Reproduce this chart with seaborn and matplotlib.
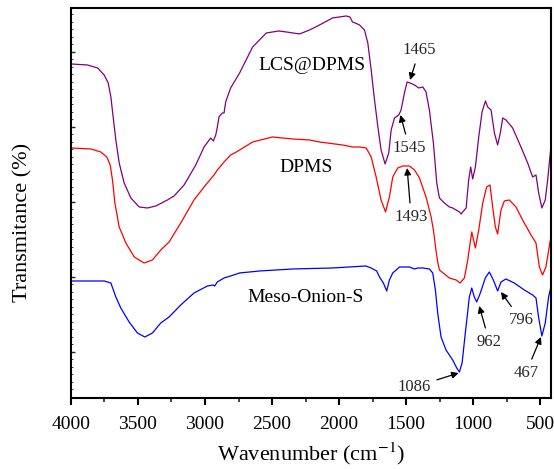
import matplotlib
matplotlib.use("Agg")
import matplotlib.pyplot as plt
import matplotlib.ticker as mticker
import seaborn as sns
import pandas as pd

# Spectra (transmittance in arbitrary units, curves stacked)
lcs_wn = [4000, 3876, 3801, 3752, 3722, 3702, 3685, 3665, 3640, 3603, 3553, 3491, 3429, 3367,
          3280, 3231, 3156, 3069, 3007, 2958, 2938, 2920, 2908, 2896, 2871, 2858, 2846, 2809,
          2742, 2645, 2543, 2450, 2394, 2295, 2220, 2146, 2049, 1947, 1920, 1900, 1863, 1848,
          1811, 1786, 1761, 1736, 1711, 1687, 1657, 1630, 1612, 1587, 1555, 1538, 1513, 1493,
          1471, 1438, 1406, 1376, 1352, 1327, 1297, 1272, 1252, 1215, 1178, 1153, 1103, 1091,
          1053, 1034, 1019, 1004, 984, 959, 934, 909, 892, 867, 842, 818, 798, 780, 756, 706,
          644, 594, 557, 532, 512, 488, 463, 445, 421]
lcs_t = [363, 362, 359, 352, 344, 330, 310, 287, 264, 244, 229, 220, 219, 221,
         227, 231, 242, 262, 280, 289, 286, 292, 300, 310, 314, 314, 325, 339,
         354, 380, 394, 396, 395, 393, 397, 402, 409, 411, 410, 405, 403, 402,
         397, 384, 357, 327, 300, 277, 263, 274, 297, 309, 312, 317, 334, 345,
         344, 342, 339, 340, 335, 317, 284, 244, 229, 224, 220, 219, 215, 213,
         219, 247, 260, 248, 260, 290, 315, 326, 320, 317, 294, 282, 294, 309, 307, 299,
         280, 264, 250, 252, 234, 219, 227, 247, 280]

dpms_wn = [4000, 3851, 3777, 3732, 3707, 3690, 3672, 3640, 3590, 3528, 3454, 3392, 3330, 3268,
           3181, 3082, 3007, 2933, 2908, 2858, 2809, 2766, 2645, 2496, 2347, 2220, 2146, 1975,
           1900, 1848, 1798, 1761, 1724, 1687, 1654, 1625, 1600, 1563, 1525, 1476, 1438, 1401,
           1352, 1314, 1297, 1278, 1265, 1252, 1178, 1128, 1098, 1066, 1041, 1011, 984, 959,
           929, 900, 875, 855, 835, 818, 793, 768, 731, 681, 632, 569, 532, 507, 483, 458, 421]
dpms_t = [279, 278, 275, 270, 262, 247, 224, 200, 184, 170, 164, 167, 177, 185,
          204, 227, 240, 252, 257, 265, 272, 275, 285, 290, 288, 287, 285, 282,
          280, 280, 279, 270, 250, 227, 215, 230, 250, 259, 261, 261, 257, 249,
          230, 210, 197, 177, 165, 157, 149, 147, 144, 149, 167, 195, 179, 197,
          224, 240, 242, 220, 200, 193, 217, 226, 227, 220, 207, 192, 184, 160, 152, 160, 190]

meso_wn = [4000, 3752, 3702, 3665, 3628, 3566, 3504, 3449, 3392, 3330, 3268, 3181, 3082, 2982,
           2938, 2928, 2908, 2858, 2809, 2742, 2593, 2345, 2049, 1800, 1762, 1720, 1699, 1670,
           1645, 1625, 1600, 1550, 1476, 1438, 1413, 1376, 1327, 1302, 1282, 1265, 1240, 1203,
           1153, 1123, 1103, 1083, 1059, 1029, 1011, 992, 974, 947, 910, 880, 850, 818, 793,
           756, 694, 619, 557, 532, 513, 488, 463, 438, 421]
meso_t = [146, 146, 144, 130, 119, 105, 94, 90, 94, 104, 110, 122, 134, 141,
          142, 141, 145, 149, 151, 154, 156, 158, 159, 161, 159, 156, 150, 144,
          136, 147, 154, 160, 160, 158, 159, 159, 158, 154, 137, 114, 90, 77,
          67, 59, 55, 64, 94, 130, 139, 130, 125, 134, 149, 155, 147, 136, 145,
          148, 144, 137, 132, 129, 110, 91, 104, 130, 140]

curve_names = ["LCS@DPMS", "DPMS", "Meso-Onion-S"]
curve_colors = ["#800080", "#FF0000", "#0000FF"]

# peak labels: text, (wn, T) of arrow head, (wn, T) of text
peak_labels = ["1465", "1545", "1493", "1086", "962", "796", "467"]
peak_heads = [(1471, 347), (1543, 312), (1493, 259), (1109, 54), (955, 121), (793, 135), (495, 90)]
peak_texts = [(1401, 377), (1476, 279), (1463, 210), (1439, 40), (880, 85), (644, 107), (607, 54)]

name_pos = [(2206, 361), (2243, 259), (2250, 129)]

sns.set_theme(style="ticks")
plt.rcParams["font.family"] = ["Liberation Serif", "DejaVu Serif"]
plt.rcParams["mathtext.fontset"] = "stix"

fig = plt.figure(figsize=(5.54, 4.69), dpi=100)
ax = fig.add_axes([0.128, 0.1514, 0.8666, 0.8316])

series = [(lcs_wn, lcs_t), (dpms_wn, dpms_t), (meso_wn, meso_t)]
for (wn, t), name, color in zip(series, curve_names, curve_colors):
    df = pd.DataFrame({"wn": wn, "t": t})
    sns.lineplot(data=df, x="wn", y="t", color=color, linewidth=0.9, ax=ax)

for name, (x, y) in zip(curve_names, name_pos):
    ax.text(x, y, name, fontsize=14, ha="center", va="center", color="black")

for lab, head, txt in zip(peak_labels, peak_heads, peak_texts):
    ax.annotate(lab, xy=head, xytext=txt, fontsize=12, ha="center", va="center",
                arrowprops=dict(arrowstyle="-|>", color="black", lw=0.9,
                                mutation_scale=10, shrinkA=2, shrinkB=0))

ax.set_xlim(4000, 420)
ax.set_ylim(29, 419)
ax.xaxis.set_major_locator(mticker.MultipleLocator(500))
ax.xaxis.set_minor_locator(mticker.MultipleLocator(250))
ax.yaxis.set_major_locator(mticker.MultipleLocator(75))
ax.yaxis.set_minor_locator(mticker.MultipleLocator(7.5))
ax.set_yticklabels([])
ax.tick_params(axis="x", which="major", direction="out", length=5, width=1.5, pad=8,
               labelsize=14, colors="black", top=False)
ax.tick_params(axis="x", which="minor", direction="out", length=3, width=1.2, top=False)
ax.tick_params(axis="y", which="major", direction="in", length=3, width=1.0, right=False)
ax.tick_params(axis="y", which="minor", direction="in", length=1.5, width=0.6, right=False)
for sp in ax.spines.values():
    sp.set_visible(True)
    sp.set_linewidth(1.5)
    sp.set_color("black")

ax.set_xlabel("Wavenumber (cm$^{-1}$)", fontsize=16, color="black", labelpad=5)
ax.set_ylabel("Transmitance (%)", fontsize=16, color="black")
ax.yaxis.set_label_coords(-0.08, 0.45)

fig.savefig("out.png", dpi=100)
